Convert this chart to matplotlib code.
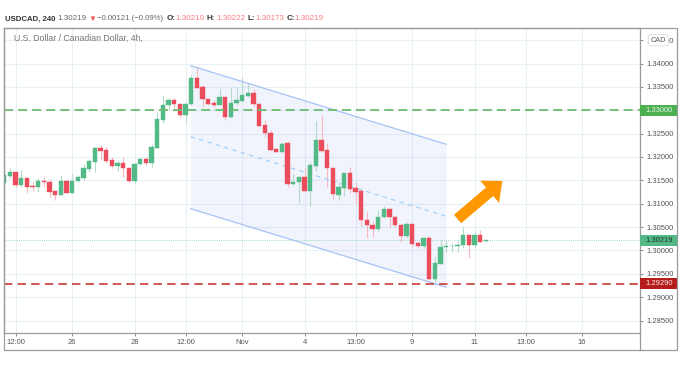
import matplotlib
matplotlib.use('Agg')
import matplotlib.pyplot as plt
from matplotlib.patches import Rectangle
from matplotlib.lines import Line2D

plt.rcParams['font.family'] = ['Liberation Sans', 'DejaVu Sans']

opens = [1.31449, 1.31599, 1.31685, 1.31406, 1.31550, 1.31379, 1.31364, 1.31492, 1.31464, 1.31265,
         1.31186, 1.31486, 1.31222, 1.31486, 1.31550, 1.31749, 1.31899, 1.32192, 1.32143, 1.31935,
         1.31807, 1.31871, 1.31770, 1.31479, 1.31849, 1.31950, 1.31864, 1.32198, 1.32791, 1.33106,
         1.33225, 1.33140, 1.32898, 1.33133, 1.33690, 1.33497, 1.33247, 1.33161, 1.33112, 1.33277,
         1.32855, 1.33148, 1.33198, 1.33311, 1.33369, 1.33140, 1.32678, 1.32513, 1.32164, 1.32106,
         1.32292, 1.31415, 1.31458, 1.31578, 1.31278, 1.31813, 1.32363, 1.32149, 1.31757, 1.31193,
         1.31336, 1.31650, 1.31329, 1.31265, 1.30645, 1.30544, 1.30458, 1.30715, 1.30886, 1.30715,
         1.30544, 1.30302, 1.30572, 1.30152, 1.30101, 1.30263, 1.29388, 1.29716, 1.30078, 1.30086,
         1.30088, 1.30110, 1.30336, 1.30110, 1.30336, 1.30210]
closes = [1.31614, 1.31685, 1.31406, 1.31550, 1.31364, 1.31359, 1.31492, 1.31464, 1.31257, 1.31186,
          1.31486, 1.31222, 1.31492, 1.31565, 1.31757, 1.31907, 1.32192, 1.32128, 1.31920, 1.31807,
          1.31871, 1.31757, 1.31479, 1.31856, 1.31950, 1.31877, 1.32207, 1.32806, 1.33112, 1.33225,
          1.33133, 1.32898, 1.33140, 1.33683, 1.33482, 1.33240, 1.33140, 1.33112, 1.33277, 1.32862,
          1.33155, 1.33219, 1.33320, 1.33369, 1.33140, 1.32669, 1.32506, 1.32149, 1.32106, 1.32284,
          1.31421, 1.31471, 1.31578, 1.31278, 1.31828, 1.32363, 1.32134, 1.31757, 1.31201, 1.31351,
          1.31650, 1.31308, 1.31250, 1.30645, 1.30538, 1.30458, 1.30725, 1.30886, 1.30715, 1.30538,
          1.30302, 1.30572, 1.30144, 1.30101, 1.30263, 1.29388, 1.29731, 1.30080, 1.30095, 1.30101,
          1.30122, 1.30336, 1.30110, 1.30336, 1.30187, 1.30219]
highs = [1.31678, 1.31757, 1.31685, 1.31721, 1.31550, 1.31471, 1.31543, 1.31578, 1.31522, 1.31265,
         1.31614, 1.31507, 1.31635, 1.31614, 1.31849, 1.31950, 1.32220, 1.32256, 1.32220, 1.32006,
         1.31935, 1.31993, 1.31792, 1.31856, 1.31993, 1.31993, 1.32277, 1.32969, 1.33326, 1.33255,
         1.33255, 1.33140, 1.33183, 1.33754, 1.33932, 1.33540, 1.33247, 1.33219, 1.33448, 1.33290,
         1.33491, 1.33491, 1.33683, 1.33576, 1.33448, 1.33140, 1.32791, 1.32577, 1.32185, 1.32327,
         1.32327, 1.31650, 1.31578, 1.31757, 1.31899, 1.32776, 1.32905, 1.32305, 1.31757, 1.31471,
         1.31650, 1.31792, 1.31471, 1.31336, 1.30837, 1.30623, 1.30856, 1.30957, 1.30908, 1.30730,
         1.30572, 1.30608, 1.30572, 1.30174, 1.30281, 1.30302, 1.29874, 1.30229, 1.30229, 1.30159,
         1.30215, 1.30501, 1.30336, 1.30422, 1.30431, 1.30222]
lows = [1.31421, 1.31543, 1.31364, 1.31351, 1.31222, 1.31278, 1.31244, 1.31364, 1.31150, 1.31079,
        1.31186, 1.31222, 1.31222, 1.31471, 1.31507, 1.31685, 1.31685, 1.31935, 1.31864, 1.31757,
        1.31706, 1.31578, 1.31471, 1.31437, 1.31828, 1.31828, 1.31792, 1.32185, 1.32733, 1.33005,
        1.33041, 1.32862, 1.32755, 1.33112, 1.33469, 1.33063, 1.33112, 1.33076, 1.33112, 1.32791,
        1.32827, 1.33112, 1.33183, 1.33290, 1.33063, 1.32648, 1.32434, 1.32134, 1.32106, 1.32078,
        1.31364, 1.31400, 1.31021, 1.31278, 1.30951, 1.31706, 1.32113, 1.31351, 1.31100, 1.31079,
        1.31165, 1.31222, 1.31021, 1.30516, 1.30266, 1.30281, 1.30409, 1.30694, 1.30495, 1.30495,
        1.30180, 1.30266, 1.30073, 1.30052, 1.30052, 1.29373, 1.29266, 1.29716, 1.29966, 1.29966,
        1.29966, 1.30052, 1.29838, 1.30052, 1.30174, 1.30173]

price_ticks = [1.285, 1.29, 1.295, 1.30, 1.305, 1.31, 1.315, 1.32, 1.325, 1.33, 1.335, 1.34, 1.345]
time_ticks = [2, 12, 23, 32, 42, 53, 62, 72, 83, 92, 102]
time_labels = ['12:00', '26', '28', '12:00', 'Nov', '4', '13:00', '9', '11', '13:00', '16']

channel_x = [32.9, 78]
channel_upper = [1.33953, 1.32271]
channel_mid = [1.32434, 1.30730]
channel_lower = [1.30893, 1.29211]

resistance = 1.33
support = 1.2929
last_price = 1.30219
arrow_start = (80, 1.30672)
arrow_end = (87.9, 1.31486)

green = '#53b987'
red = '#eb4d5c'
green_wick = '#b5dccb'
red_wick = '#f7b8be'

W, H = 681, 373
fig = plt.figure(figsize=(W / 100, H / 100), dpi=100)
ax = fig.add_axes([4 / W, 1 - 332.7 / H, 636 / W, 304.7 / H])
ax.set_xlim(-0.05, 112.2)
ax.set_ylim(1.28239, 1.34760)

ax.set_axisbelow(True)
ax.grid(True, color='#e9f0f5', lw=0.8)
ax.yaxis.tick_right()
ax.set_yticks(price_ticks)
ax.set_yticklabels(['%.5f' % p for p in price_ticks])
ax.set_xticks(time_ticks)
ax.set_xticklabels(time_labels)
ax.tick_params(axis='both', length=2, width=0.6, color='#777777', labelsize=5.5, labelcolor='#555555', pad=2.5)
for s in ax.spines.values():
    s.set_color('#9a9a9a')
    s.set_linewidth(0.9)

# channel
ax.fill_between(channel_x, channel_lower, channel_upper, color='#3f6fe0', alpha=0.07, lw=0, zorder=1)
ax.plot(channel_x, channel_upper, color='#a6c3f5', lw=0.9, zorder=4)
ax.plot(channel_x, channel_lower, color='#a6c3f5', lw=0.9, zorder=4)
ax.plot(channel_x, channel_mid, color='#a3d0fa', lw=0.9, ls=(0, (3.5, 3.5)), zorder=2.5)

# candles
for i in range(len(opens)):
    up = closes[i] >= opens[i]
    ax.vlines(i, lows[i], highs[i], color=green_wick if up else red_wick, lw=0.8, zorder=2)
    ax.bar(i, abs(closes[i] - opens[i]), bottom=min(opens[i], closes[i]), width=0.76,
           color=green if up else red, edgecolor=green if up else red, lw=0.3, zorder=3)

ax.axhline(resistance, color='#6cbb70', lw=1.3, ls=(0, (5, 2.8)), zorder=5)
ax.axhline(support, color='#c62828', lw=1.1, ls=(0, (5.5, 3.4)), zorder=5)
ax.axhline(last_price, color='#8fd0b0', lw=0.6, ls=(0, (1, 1.5)), zorder=2)

ax.annotate('', xy=arrow_end, xytext=arrow_start, zorder=6,
            arrowprops=dict(arrowstyle='simple,head_length=12,head_width=21,tail_width=8',
                            color='#ff9800', lw=0, shrinkA=0, shrinkB=0, mutation_scale=1))

# price labels on the scale
trans = ax.get_yaxis_transform()
box_w = 36.5 / 636
box_h = 0.00115
labels = [(resistance, '#4caf50', '#e8f5e9'), (support, '#b71c1c', '#fbe9e9'), (last_price, green, '#20352b')]
for price, col, txt in labels:
    ax.add_patch(Rectangle((1.0, price - box_h), box_w, 2 * box_h, transform=trans, color=col, lw=0,
                           clip_on=False, zorder=7))
    ax.text(1.0 + 5.5 / 636, price, '%.5f' % price, transform=trans, color=txt, fontsize=5.5, va='center',
            clip_on=False, zorder=8)

ax.text(1.0 + 18.5 / 636, 1.34500, 'CAD', transform=trans, ha='center', va='center', fontsize=5.2, color='#555555',
        clip_on=False, zorder=8,
        bbox=dict(boxstyle='round,pad=0.3', fc='white', ec='#dddddd', lw=0.6))

ax.text(10 / 636, 1.34760 - 10 * 0.000214, 'U.S. Dollar / Canadian Dollar, 4h,', transform=trans,
        fontsize=6.3, color='#777777', va='center', zorder=8)

# outer frame of chart
fig.add_artist(Rectangle((4 / W, 1 - 350 / H), 673 / W, 322 / H, transform=fig.transFigure, fill=False,
                         ec='#9a9a9a', lw=0.9))
fig.add_artist(Line2D([640 / W, 640 / W], [1 - 350 / H, 1 - 332 / H], transform=fig.transFigure,
                      color='#9a9a9a', lw=0.9))

# header
header = [(4.7, 'USDCAD, 240', '#333333', 'bold', 5.6), (57, '1.30219', '#666666', 'normal', 5.8),
          (88, '\u25bc', '#ef5350', 'normal', 5.8), (97, '\u22120.00121 (\u22120.09%)', '#666666', 'normal', 5.6),
          (166.7, 'O:', '#333333', 'bold', 5.8), (175.7, '1.30210', '#f77c80', 'normal', 5.8),
          (207, 'H:', '#333333', 'bold', 5.8), (216.7, '1.30222', '#f77c80', 'normal', 5.8),
          (248, 'L:', '#333333', 'bold', 5.8), (255, '1.30173', '#f77c80', 'normal', 5.8),
          (286.7, 'C:', '#333333', 'bold', 5.8), (294.7, '1.30219', '#f77c80', 'normal', 5.8)]
for x, s, col, weight, size in header:
    fig.text(x / W, 1 - 19 / H, s, color=col, fontweight=weight, fontsize=size, va='center')

fig.savefig('out.png', dpi=100)
